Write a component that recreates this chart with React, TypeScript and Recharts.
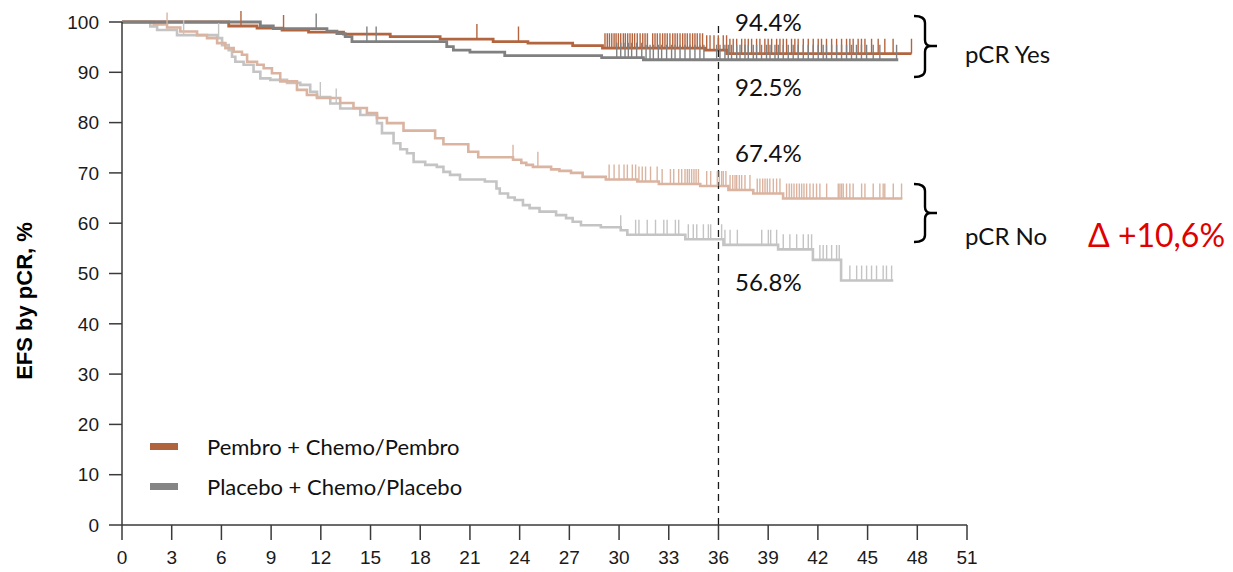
import React from "react";
import {
  ComposedChart,
  Line,
  Scatter,
  XAxis,
  YAxis,
  ReferenceLine,
  ReferenceDot,
  Legend,
  Label,
} from "recharts";

// axis ticks
const monthTicks = [0, 3, 6, 9, 12, 15, 18, 21, 24, 27, 30, 33, 36, 39, 42, 45, 48, 51];
const pctTicks = [0, 10, 20, 30, 40, 50, 60, 70, 80, 90, 100];

// Kaplan-Meier steps: event times (months) and EFS (%)
const pembroYesT = [0, 6.44, 8.15, 9.66, 11.26, 13.37, 16.19, 19.2, 22.4, 24.5, 27.2, 29.0, 35.2, 36.5, 47.65];
const pembroYesS = [100, 99.2, 98.8, 98.4, 98.0, 97.6, 97.1, 96.6, 96.1, 95.8, 95.3, 94.8, 94.4, 93.7, 93.7];

const placeboYesT = [0, 8.35, 9.13, 12.37, 12.97, 13.47, 13.88, 19.6, 20.0, 21.0, 23.1, 28.95, 31.47, 46.85];
const placeboYesS = [100, 99.2, 98.7, 98.2, 97.7, 97.1, 96.1, 95.1, 94.4, 94.0, 93.3, 92.9, 92.5, 92.5];

const pembroNoT = [
  0, 1.91, 2.72, 3.52, 4.53, 5.13, 5.74, 6.24, 6.74, 7.24, 7.55, 8.15, 8.55, 9.05, 9.55, 10.56, 11.16, 11.77,
  13.17, 13.97, 14.78, 15.39, 15.99, 16.99, 18.9, 19.4, 20.9, 21.5, 23.6, 24.1, 24.4, 24.8, 25.9, 26.4, 27.1,
  27.8, 29.2, 31.1, 32.4, 34.9, 36.6, 38.1, 39.9, 47.1,
];
const pembroNoS = [
  100, 99.5, 98.9, 98.1, 97.4, 96.8, 95.8, 94.8, 94.1, 93.5, 92.1, 91.5, 90.8, 89.8, 88.2, 86.5, 85.5, 84.9,
  83.9, 82.9, 81.9, 80.9, 79.9, 78.4, 76.9, 75.7, 74.2, 73.1, 72.6, 72.0, 71.6, 71.2, 70.7, 70.4, 70.0,
  69.2, 68.7, 68.3, 67.8, 67.4, 66.6, 65.9, 64.9, 64.9,
];

const placeboNoT = [
  0, 1.71, 2.12, 3.32, 5.74, 6.04, 6.44, 6.64, 6.84, 7.34, 7.94, 8.35, 8.95, 9.96, 10.76, 11.36, 11.77, 12.57,
  13.17, 14.38, 15.39, 15.69, 16.39, 16.8, 17.2, 17.6, 18.3, 19.0, 19.4, 19.8, 20.4, 21.9, 22.6, 22.8, 23.3,
  23.7, 24.2, 24.6, 25.2, 26.2, 26.8, 27.2, 27.7, 28.9, 30.1, 30.5, 34.0, 36.3, 39.6, 41.7, 43.4, 46.55,
];
const placeboNoS = [
  100, 99.1, 98.4, 97.4, 96.8, 95.4, 94.4, 93.1, 92.1, 91.5, 90.1, 88.8, 88.5, 87.9, 87.5, 86.1, 85.1, 83.8,
  82.8, 81.5, 79.9, 77.9, 75.9, 74.7, 73.9, 72.2, 71.6, 71.2, 70.2, 69.6, 68.7, 68.3, 66.9, 65.9, 65.1,
  64.6, 63.6, 63.0, 62.3, 61.6, 61.0, 60.3, 59.6, 59.2, 58.6, 57.7, 56.8, 55.7, 54.8, 52.7, 48.6, 48.6,
];

// censoring times (months)
const pembroYesCens = [
  7.18, 9.75, 21.42, 23.93, 29.15, 29.29, 29.42, 29.56, 29.7, 29.82, 29.96, 30.1, 30.26, 30.38, 30.52, 30.66,
  30.8, 30.94, 31.1, 31.27, 31.43, 31.57, 31.71, 32.03, 32.17, 32.31, 32.47, 32.63, 32.77, 32.91, 33.07, 33.24,
  33.38, 33.52, 33.68, 33.84, 33.98, 34.12, 34.28, 34.44, 34.58, 34.72, 34.88, 35.04, 35.29, 35.49, 35.73,
  35.99, 36.29, 36.49, 36.69, 36.89, 37.1, 37.4, 37.6, 37.8, 38.0, 38.3, 38.5, 38.8, 39.0, 39.21, 39.51, 39.71,
  39.91, 40.11, 40.41, 40.61, 40.81, 41.12, 41.42, 41.72, 42.02, 42.22, 42.52, 42.83, 43.13, 43.43, 43.73,
  43.93, 44.13, 44.43, 44.63, 44.84, 45.24, 45.64, 46.04, 46.54, 47.65,
];
const placeboYesCens = [
  11.72, 14.78, 15.34, 29.86, 30.1, 30.36, 30.56, 30.76, 31.06, 31.37, 31.63, 31.87, 32.07, 32.37, 32.57,
  32.87, 33.17, 33.38, 33.68, 33.98, 34.28, 34.58, 34.88, 35.12, 35.89, 36.09, 36.39, 36.59, 36.79, 37.1,
  37.3, 37.6, 37.8, 38.1, 38.3, 38.6, 38.9, 39.11, 39.41, 39.61, 39.91, 40.21, 40.51, 40.81, 41.12, 41.42,
  41.72, 42.02, 42.32, 42.52, 42.83, 43.13, 43.43, 43.73, 44.03, 44.33, 44.63, 44.94, 45.34, 45.74, 46.75,
];
const pembroNoCens = [
  2.72, 23.6, 25.1, 29.4, 29.7, 30.0, 30.3, 30.5, 30.8, 31.0, 31.2, 31.4, 31.6, 31.9, 32.3, 32.6, 33.1, 33.3,
  33.6, 33.78, 33.98, 34.12, 34.24, 34.38, 34.52, 34.65, 34.79, 35.29, 35.53, 35.93, 36.05, 36.19, 36.29,
  36.45, 36.7, 36.86, 37.0, 37.1, 37.26, 37.4, 37.6, 37.9, 38.34, 38.5, 38.67, 38.81, 38.95, 39.1, 39.31,
  39.51, 39.71, 40.11, 40.27, 40.41, 40.56, 40.72, 40.88, 41.02, 41.16, 41.32, 41.52, 41.72, 41.92, 42.12,
  42.53, 43.23, 43.33, 43.43, 43.53, 43.73, 43.93, 44.13, 44.64, 44.84, 45.34, 45.74, 45.94, 46.04, 46.55,
  47.05,
];
const placeboNoCens = [
  3.72, 5.83, 11.97, 12.93, 30.1, 31.0, 31.2, 31.7, 32.2, 32.7, 32.9, 33.4, 33.6, 34.18, 34.48, 34.69, 35.09,
  35.39, 35.53, 36.19, 36.39, 36.7, 37.14, 38.61, 39.01, 39.15, 39.51, 39.91, 40.31, 40.72, 41.12, 41.42,
  41.62, 42.12, 42.32, 42.53, 42.83, 43.13, 43.29, 43.93, 44.34, 44.64, 44.94, 45.24, 45.54, 45.94, 46.14,
  46.45,
];

// 36-month landmark estimates
const landmarkMonth = 36;
const landmarkValues = [94.4, 92.5, 67.4, 56.8];
const landmarkLabels = ["94.4%", "92.5%", "67.4%", "56.8%"];
const landmarkDy = [-19, 36, -24, 52];

const legendLabels = ["Pembro + Chemo/Pembro", "Placebo + Chemo/Placebo"];
const deltaLabel = "\u0394 +10,6%";

const C_PEMBRO = "#b3653f";
const C_PLACEBO = "#808080";
const C_PEMBRO_LIGHT = "#dab4a0";
const C_PLACEBO_LIGHT = "#c4c4c4";
const legendColors = ["#b0643e", "#858585"];

const ANNOT_FONT = "Lato, 'Open Sans', sans-serif";
const AXIS_FONT = "'Liberation Sans', Arial, sans-serif";

const toSteps = (t: number[], s: number[]) => t.map((x, i) => ({ t: x, s: s[i] }));

const survivalAt = (t: number[], s: number[], at: number) => {
  let v = s[0];
  for (let i = 0; i < t.length; i++) if (t[i] <= at) v = s[i];
  return v;
};

const toCens = (cens: number[], t: number[], s: number[]) =>
  cens.map((c) => ({ t: c, s: survivalAt(t, s, c) }));

const censorMark = (color: string) => (props: any) => {
  const { cx, cy } = props;
  if (cx == null || cy == null) return <g />;
  return <line x1={cx} x2={cx} y1={cy} y2={cy - 15} stroke={color} strokeWidth={1.4} />;
};

const landmarkText = (text: string, dy: number) => (props: any) => (
  <text x={props.cx + 16.5} y={props.cy + dy} fontFamily={ANNOT_FONT} fontSize={24} fill="#111">
    {text}
  </text>
);

// curly brace pointing right, drawn from top-left end to bottom-left end
const bracePath = (x0: number, x1: number, x2: number, top: number, mid: number, bot: number) =>
  `M ${x0} ${top} Q ${x1} ${top} ${x1} ${top + 7} L ${x1} ${mid - 6} Q ${x1} ${mid} ${x1 + 6} ${mid} L ${x2} ${mid} ` +
  `M ${x1 + 6} ${mid} Q ${x1} ${mid} ${x1} ${mid + 6} L ${x1} ${bot - 7} Q ${x1} ${bot} ${x0} ${bot}`;

// group labels and braces, placed relative to the top-right corner of the plot
const SideNotes = (props: any) => {
  const { cx, cy } = props;
  return (
    <g>
      <path d={bracePath(cx - 53, cx - 42, cx - 30, cy - 6, cy + 24, cy + 55)} stroke="#000" strokeWidth={2.4} fill="none" />
      <path d={bracePath(cx - 53, cx - 42, cx - 30, cy + 162, cy + 191, cy + 220)} stroke="#000" strokeWidth={2.4} fill="none" />
      <text x={cx - 2} y={cy + 41} fontFamily={ANNOT_FONT} fontSize={24} fill="#111">
        pCR Yes
      </text>
      <text x={cx - 2} y={cy + 223} fontFamily={ANNOT_FONT} fontSize={24} fill="#111">
        pCR No
      </text>
      <text x={cx + 121} y={cy + 225} fontFamily={ANNOT_FONT} fontSize={32} fill="#e00000">
        {deltaLabel}
      </text>
    </g>
  );
};

const LegendBox = () => (
  <div style={{ fontFamily: ANNOT_FONT, fontSize: 22, color: "#111" }}>
    {legendLabels.map((name, i) => (
      <div key={name} style={{ display: "flex", alignItems: "center", height: 40 }}>
        <span style={{ display: "inline-block", width: 28, height: 7, background: legendColors[i], marginRight: 29 }} />
        <span>{name}</span>
      </div>
    ))}
  </div>
);

export default function App() {
  return (
    <div style={{ width: 1225, height: 564 }}>
      <ComposedChart width={1225} height={564} margin={{ top: 14, right: 266, bottom: 7, left: 54 }}>
        <XAxis
          type="number"
          dataKey="t"
          domain={[0, 51]}
          ticks={monthTicks}
          allowDataOverflow
          height={40}
          tickSize={15}
          tickMargin={11}
          axisLine={{ stroke: "#3a3a3a", strokeWidth: 1.5 }}
          tickLine={{ stroke: "#3a3a3a", strokeWidth: 1.5 }}
          tick={{ fontSize: 19, fill: "#1a1a1a", fontFamily: AXIS_FONT }}
        />
        <YAxis
          type="number"
          domain={[0, 100]}
          ticks={pctTicks}
          width={60}
          tickSize={13}
          tickMargin={10}
          axisLine={{ stroke: "#3a3a3a", strokeWidth: 1.5 }}
          tickLine={{ stroke: "#3a3a3a", strokeWidth: 1.5 }}
          tick={{ fontSize: 19, fill: "#1a1a1a", fontFamily: AXIS_FONT }}
        >
          <Label
            content={() => (
              <text
                x={16}
                y={293}
                transform="rotate(-90 16 293)"
                textAnchor="middle"
                dominantBaseline="central"
                fontFamily={AXIS_FONT}
                fontWeight="bold"
                fontSize={22}
                fill="#000"
              >
                EFS by pCR, %
              </text>
            )}
          />
        </YAxis>

        <Line data={toSteps(placeboNoT, placeboNoS)} dataKey="s" type="stepAfter" stroke={C_PLACEBO_LIGHT} strokeWidth={2.6} dot={false} isAnimationActive={false} />
        <Line data={toSteps(pembroNoT, pembroNoS)} dataKey="s" type="stepAfter" stroke={C_PEMBRO_LIGHT} strokeWidth={2.6} dot={false} isAnimationActive={false} />
        <Line data={toSteps(pembroYesT, pembroYesS)} dataKey="s" type="stepAfter" stroke={C_PEMBRO} strokeWidth={2.8} dot={false} isAnimationActive={false} />
        <Line data={toSteps(placeboYesT, placeboYesS)} dataKey="s" type="stepAfter" stroke={C_PLACEBO} strokeWidth={2.8} dot={false} isAnimationActive={false} />

        <Scatter data={toCens(placeboNoCens, placeboNoT, placeboNoS)} dataKey="s" shape={censorMark(C_PLACEBO_LIGHT)} isAnimationActive={false} />
        <Scatter data={toCens(pembroNoCens, pembroNoT, pembroNoS)} dataKey="s" shape={censorMark(C_PEMBRO_LIGHT)} isAnimationActive={false} />
        <Scatter data={toCens(pembroYesCens, pembroYesT, pembroYesS)} dataKey="s" shape={censorMark(C_PEMBRO)} isAnimationActive={false} />
        <Scatter data={toCens(placeboYesCens, placeboYesT, placeboYesS)} dataKey="s" shape={censorMark(C_PLACEBO)} isAnimationActive={false} />

        <ReferenceLine x={landmarkMonth} stroke="#1a1a1a" strokeWidth={1.3} strokeDasharray="7 5" />

        {landmarkValues.map((v, i) => (
          <ReferenceDot
            key={landmarkLabels[i]}
            x={landmarkMonth}
            y={v}
            ifOverflow="visible"
            shape={landmarkText(landmarkLabels[i], landmarkDy[i])}
          />
        ))}
        <ReferenceDot x={51} y={100} ifOverflow="visible" shape={SideNotes} />

        <Legend
          layout="horizontal"
          verticalAlign="middle"
          align="center"
          content={LegendBox}
          wrapperStyle={{ left: 142, top: 418, width: "auto" }}
        />
      </ComposedChart>
    </div>
  );
}
